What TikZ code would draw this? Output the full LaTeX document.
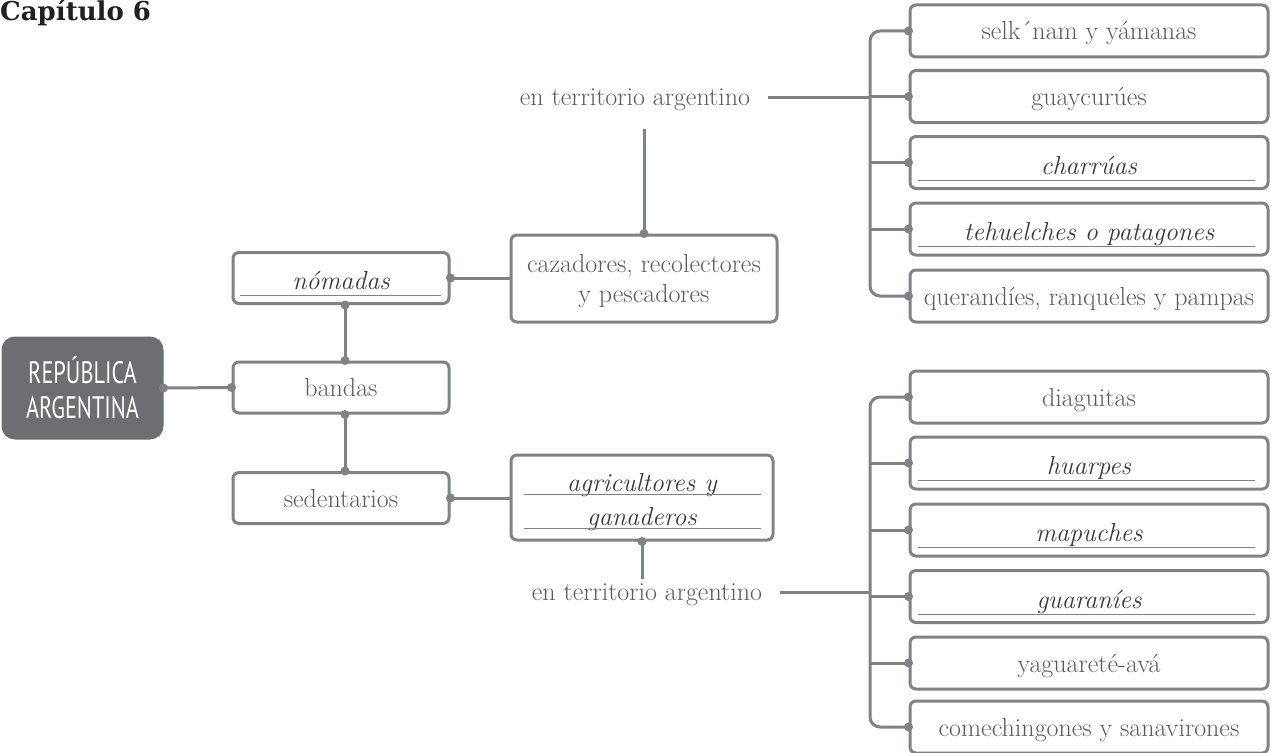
\documentclass[tikz,border=0pt]{standalone}
\usepackage{fontspec}
\newfontfamily\capfont{DejaVu Serif}
\newfontfamily\rafont[FakeStretch=0.72]{PT Sans}
\definecolor{linegray}{HTML}{808285}
\definecolor{boxdark}{HTML}{6D6E71}
\definecolor{txtgray}{HTML}{5A5B5D}
\definecolor{txtdark}{HTML}{3A3A3C}
\definecolor{titleblack}{HTML}{231F20}
\tikzset{
	conn/.style={draw=linegray, line width=3pt},
	uline/.style={draw=linegray, line width=1pt},
	box/.style={conn, rounded corners=6pt, minimum height=51pt, align=center, text=txtgray, font=\fontsize{26}{30}\selectfont},
	onebox/.style={box, text height=22pt, text depth=4pt},
	ubox/.style={onebox, text height=27pt, text=txtdark, font=\fontsize{26}{30}\selectfont\itshape},
	twobox/.style={box, text height=22pt, text depth=35pt},
	mid/.style={minimum width=216pt},
	tribe/.style={minimum width=358pt, minimum height=52pt},
	lbl/.style={text=txtgray, font=\fontsize{26}{30}\selectfont, text height=20pt, text depth=4pt}
}

\begin{document}
\begin{tikzpicture}[x=1pt, y=-1pt]
	\useasboundingbox (0,0) rectangle (1271,752);
	\node[anchor=base west, inner sep=0pt, text=titleblack, font=\capfont\bfseries\fontsize{26}{30}\selectfont] (cap) at (0,21) {Capítulo 6};

	\node[box, fill=boxdark, draw=boxdark, rounded corners=12pt, minimum width=159pt, minimum height=100pt, text=white, font=\rafont\fontsize{31}{35}\selectfont] (rep) at (82.5,388) {REPÚBLICA\\ARGENTINA};
	\node[onebox, mid] (ban) at (341,387.5) {bandas};
	\node[ubox, mid, text height=26pt] (nom) at (341,278) {nómadas};
	\node[onebox, mid] (sed) at (341,498) {sedentarios};
	\node[twobox, minimum width=266pt, minimum height=87pt] (caz) at (644,278.5) {\begin{tabular}[t]{@{}c@{}}cazadores, recolectores\\y pescadores\end{tabular}};
	\node[twobox, text=txtdark, font=\fontsize{26}{34}\selectfont\itshape, minimum width=262pt, minimum height=85pt] (agr) at (642,497.5) {\begin{tabular}[t]{@{}c@{}}agricultores y\\ganaderos\end{tabular}};
	\node[lbl] (ta) at (635,97) {en territorio argentino};
	\node[lbl] (ba) at (647,592) {en territorio argentino};

	\node[onebox, tribe] (t1) at (1089,31) {selk´nam y yámanas};
	\node[onebox, tribe] (t2) at (1089,96.5) {guaycurúes};
	\node[ubox, tribe] (t3) at (1089,162.5) {charrúas};
	\node[ubox, tribe] (t4) at (1089,229) {tehuelches o patagones};
	\node[onebox, tribe] (t5) at (1089,296) {querandíes, ranqueles y pampas};

	\node[onebox, tribe] (b1) at (1089,397) {diaguitas};
	\node[ubox, tribe] (b2) at (1089,463) {huarpes};
	\node[ubox, tribe] (b3) at (1089,530) {mapuches};
	\node[ubox, tribe] (b4) at (1089,596.5) {guaraníes};
	\node[onebox, tribe] (b5) at (1089,663) {yaguareté-avá};
	\node[onebox, tribe] (b6) at (1089,727) {comechingones y sanavirones};

	\draw[uline] ([xshift=8pt,yshift=10pt]nom.south west) -- ([xshift=-10pt,yshift=10pt]nom.south east);
	\draw[uline] ([xshift=14pt,yshift=47pt]agr.south west) -- ([xshift=-14pt,yshift=47pt]agr.south east);
	\draw[uline] ([xshift=14pt,yshift=13pt]agr.south west) -- ([xshift=-14pt,yshift=13pt]agr.south east);
	\draw[uline] ([xshift=9pt,yshift=10pt]t3.south west) -- ([xshift=-15pt,yshift=10pt]t3.south east);
	\draw[uline] ([xshift=9pt,yshift=10pt]t4.south west) -- ([xshift=-15pt,yshift=10pt]t4.south east);
	\draw[uline] ([xshift=9pt,yshift=10pt]b2.south west) -- ([xshift=-15pt,yshift=10pt]b2.south east);
	\draw[uline] ([xshift=9pt,yshift=10pt]b3.south west) -- ([xshift=-15pt,yshift=10pt]b3.south east);
	\draw[uline] ([xshift=9pt,yshift=10pt]b4.south west) -- ([xshift=-15pt,yshift=10pt]b4.south east);

	\draw[conn] (rep.east) -- (ban.west);
	\draw[conn] ([xshift=4pt]ban.north) -- ([xshift=4pt]nom.south);
	\draw[conn] ([xshift=4pt]ban.south) -- ([xshift=4pt]sed.north);
	\draw[conn] (nom.east) -- (nom.east -| caz.west);
	\draw[conn] (sed.east) -- (sed.east -| agr.west);
	\draw[conn] (caz.north) -- ([yshift=-16pt]caz.north |- ta.south);
	\draw[conn] (agr.south) -- ([yshift=-3pt]agr.south |- ba.north);

	\coordinate (brk) at (870,0);
	\draw[conn] ([xshift=14pt]ta.east) -- (ta.east -| brk);
	\draw[conn] ([xshift=14pt]ba.east) -- (ba.east -| brk);
	\draw[conn, rounded corners=10pt] (t1.west) -- (t1.west -| brk) -- (t5.west -| brk) -- (t5.west);
	\draw[conn] (t2.west -| brk) -- (t2.west);
	\draw[conn] (t3.west -| brk) -- (t3.west);
	\draw[conn] (t4.west -| brk) -- (t4.west);
	\draw[conn, rounded corners=10pt] (b1.west) -- (b1.west -| brk) -- (b6.west -| brk) -- (b6.west);
	\draw[conn] (b2.west -| brk) -- (b2.west);
	\draw[conn] (b3.west -| brk) -- (b3.west);
	\draw[conn] (b4.west -| brk) -- (b4.west);
	\draw[conn] (b5.west -| brk) -- (b5.west);

	\fill[linegray] (rep.east) circle (4.5pt) (ban.west) circle (4.5pt);
	\fill[linegray] ([xshift=4pt]ban.north) circle (4.5pt) ([xshift=4pt]nom.south) circle (4.5pt);
	\fill[linegray] ([xshift=4pt]ban.south) circle (4.5pt) ([xshift=4pt]sed.north) circle (4.5pt);
	\fill[linegray] (nom.east) circle (4.5pt) (sed.east) circle (4.5pt);
	\fill[linegray] (caz.north) circle (4.5pt) (agr.south) circle (4.5pt);
	\fill[linegray] (t1.west) circle (4.5pt) (t2.west) circle (4.5pt) (t3.west) circle (4.5pt) (t4.west) circle (4.5pt) (t5.west) circle (4.5pt);
	\fill[linegray] (b1.west) circle (4.5pt) (b2.west) circle (4.5pt) (b3.west) circle (4.5pt) (b4.west) circle (4.5pt) (b5.west) circle (4.5pt) (b6.west) circle (4.5pt);
\end{tikzpicture}
\end{document}
